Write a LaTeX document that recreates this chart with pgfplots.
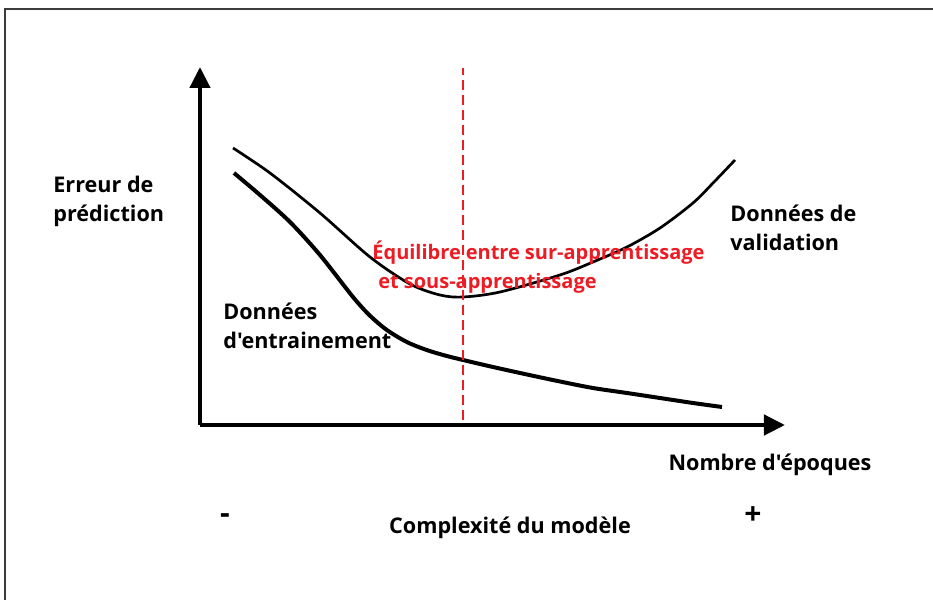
\documentclass[border=0pt]{standalone}
\usepackage{fontspec}
\setmainfont{Open Sans}[Ligatures=TeXOff]
\usepackage{pgfplots}
\pgfplotsset{compat=1.18}
\usetikzlibrary{arrows.meta}
\definecolor{msred}{RGB}{237,28,36}
\definecolor{framegray}{RGB}{60,60,60}
\tikzset{lbl/.style={inner sep=0pt, anchor=base west, align=left, font=\fontsize{10.8}{14.5}\selectfont\bfseries}}
\begin{document}
\begin{tikzpicture}[x=0.5pt,y=0.5pt]
\begin{axis}[
  scale only axis,
  width=292.5pt, height=179pt,
  xmin=200, xmax=785, ymin=175, ymax=533,
  axis lines=left,
  axis line style={line width=2.2pt, -{Triangle[length=10.5pt,width=10pt]}},
  xtick=\empty, ytick=\empty,
  clip=false,
]
% validation curve (pixel coordinates, y = 600 - pixel row)
\addplot[black, line width=1.35pt, smooth] coordinates {
(233,452) (270,427) (320,387) (370,343) (410,316) (440,305) (463,303)
(500,308) (560,325) (593,338) (627,353) (660,372) (693,397) (714,418) (735,440)};
% training curve
\addplot[black, line width=2pt, smooth] coordinates {
(234,427) (260,405) (290,378) (320,345) (353,303) (370,284.3) (387,269.9)
(407,257.9) (427,249.9) (445,244.5) (463,240) (493,233) (527,225.5) (560,218.5)
(593,212) (627,207) (660,202) (693,197) (722,193)};
% balance line
\addplot[msred, line width=1pt, dash pattern=on 5pt off 2.5pt] coordinates {(463,180) (463,532)};
% texts (anchor = baseline of the last line)
\node[lbl] at (axis cs:53,379) {Erreur de\\prédiction};
\node[lbl] at (axis cs:223,251) {Données\\d'entrainement};
\node[lbl] at (axis cs:730,350) {Données de\\validation};
\node[inner sep=0pt, anchor=base west, align=left, text=msred, font=\fontsize{10}{14.5}\selectfont\bfseries] at (axis cs:372,311) {Équilibre\hspace{2.5pt}entre\hspace{2.5pt}sur-apprentissage\\\hspace*{3pt}et\hspace{2.5pt}sous-apprentissage};
\node[inner sep=0pt, anchor=base, font=\fontsize{10.8}{14.5}\selectfont\bfseries] at (axis cs:770,130) {Nombre d'époques};
\node[inner sep=0pt, anchor=base, font=\fontsize{10.8}{14.5}\selectfont\bfseries] at (axis cs:510,67) {Complexité du modèle};
\node[font=\fontsize{15}{16}\selectfont\bfseries] at (axis cs:225,81) {-};
\node[font=\fontsize{15}{16}\selectfont\bfseries] at (axis cs:753,84) {+};
% frame
\draw[framegray, line width=0.6pt] (axis cs:5,0) -- (axis cs:5,591) -- (axis cs:933,591);
\coordinate (BL) at (axis cs:0,0);
\coordinate (TR) at (axis cs:933,600);
\end{axis}
\pgfresetboundingbox
\path[use as bounding box] (BL) rectangle (TR);
\end{tikzpicture}
\end{document}
